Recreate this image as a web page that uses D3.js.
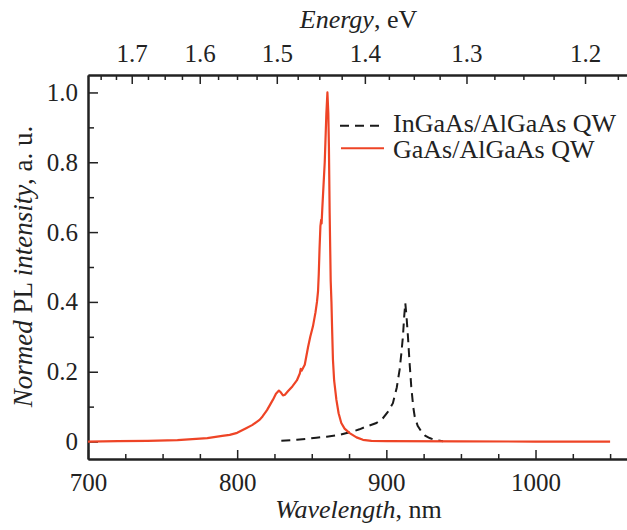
<!DOCTYPE html>
<html>
<head>
<meta charset="utf-8">
<script src="https://cdn.jsdelivr.net/npm/d3@7"></script>
<style>
  html, body { margin: 0; padding: 0; background: #fff; }
  svg { display: block; }
  text { font-family: "Liberation Serif", "Times New Roman", serif; fill: #222; }
</style>
</head>
<body>
<svg id="chart" width="627" height="530"></svg>
<script>
// ---- data ----
const gaasWavelength = [700, 720, 740, 760, 770, 780, 790, 795, 800, 806, 810, 815, 817, 820, 824, 826, 828, 829, 830.7, 832, 834, 837, 840, 842, 842.6, 843.2, 845.3, 847.5, 849, 850.8, 852.5, 853.5, 854.2, 854.7, 855.2, 855.8, 856.3, 856.6, 857.1, 858.7, 859.8, 860.5, 861.1, 861.5, 862.0, 862.7, 863.2, 863.6, 864.2, 865, 866, 866.5, 868, 869.8, 872, 875.4, 880, 884.3, 890, 900, 950, 1000, 1050];
const gaasIntensity  = [0.0, 0.001, 0.002, 0.004, 0.007, 0.010, 0.016, 0.019, 0.025, 0.038, 0.047, 0.062, 0.072, 0.09, 0.12, 0.137, 0.146, 0.142, 0.132, 0.134, 0.144, 0.158, 0.175, 0.195, 0.208, 0.203, 0.22, 0.27, 0.30, 0.33, 0.37, 0.40, 0.43, 0.48, 0.55, 0.617, 0.635, 0.625, 0.67, 0.80, 0.94, 1.0, 0.94, 0.846, 0.655, 0.46, 0.40, 0.33, 0.235, 0.175, 0.139, 0.12, 0.081, 0.053, 0.037, 0.024, 0.012, 0.005, 0.002, 0.001, 0.0005, 0.0, 0.0];

const ingaasWavelength = [829.6, 840, 853.1, 860, 868.7, 877.6, 882, 886.6, 893.3, 897.7, 901, 904.4, 907, 908.9, 910, 911.1, 912, 912.7, 913.5, 914.5, 915.5, 916.7, 918, 919, 921, 923.4, 926, 929, 933, 938];
const ingaasIntensity  = [0.002, 0.005, 0.011, 0.014, 0.019, 0.029, 0.035, 0.043, 0.053, 0.067, 0.085, 0.11, 0.155, 0.206, 0.25, 0.30, 0.36, 0.397, 0.36, 0.30, 0.23, 0.158, 0.10, 0.072, 0.045, 0.029, 0.017, 0.01, 0.004, 0.001];

const wavelengthMajorTicks = [700, 800, 900, 1000];
const wavelengthMinorTicks = [725, 750, 775, 825, 850, 875, 925, 950, 975, 1025, 1050];
const energyMajorTicks = [1.7, 1.6, 1.5, 1.4, 1.3, 1.2];
const energyMinorTicks = [1.75, 1.725, 1.675, 1.65, 1.625, 1.575, 1.55, 1.525, 1.475, 1.45, 1.425, 1.375, 1.35, 1.325, 1.275, 1.25, 1.225, 1.175];
const intensityMajorTicks = [0, 0.2, 0.4, 0.6, 0.8, 1.0];
const intensityMinorTicks = [0.1, 0.3, 0.5, 0.7, 0.9];

const seriesNames = ["InGaAs/AlGaAs QW", "GaAs/AlGaAs QW"];
const hcConst = 1239.84; // eV*nm

// ---- layout ----
const svg = d3.select("#chart");
const xLeft = 88, xRight = 628, yTop = 75, yBottom = 459;
const x = d3.scaleLinear().domain([700, 1062]).range([xLeft, xRight]);
const y = d3.scaleLinear().domain([-0.05, 1.05]).range([yBottom, yTop]);

const axisColor = "#222";
const fontSize = 25;

function styleAxis(g) {
  g.select(".domain").attr("stroke", axisColor).attr("stroke-width", 2);
  g.selectAll(".tick line").attr("stroke", axisColor).attr("stroke-width", 1.5);
  g.selectAll(".tick text").attr("font-size", fontSize).attr("fill", axisColor)
    .attr("font-family", "Liberation Serif, serif");
}

// bottom axis minor
svg.append("g").attr("transform", `translate(0,${yBottom})`)
  .call(d3.axisBottom(x).tickValues(wavelengthMinorTicks).tickSizeInner(-5).tickSizeOuter(0).tickFormat(""))
  .call(styleAxis);
// bottom axis major
svg.append("g").attr("transform", `translate(0,${yBottom})`)
  .call(d3.axisBottom(x).tickValues(wavelengthMajorTicks).tickSizeInner(-9).tickSizeOuter(0).tickPadding(14).tickFormat(d3.format("d")))
  .call(styleAxis);

// top axis (energy) minor
svg.append("g").attr("transform", `translate(0,${yTop})`)
  .call(d3.axisTop(x).tickValues(energyMinorTicks.map(e => hcConst / e)).tickSizeInner(-5).tickSizeOuter(0).tickFormat(""))
  .call(styleAxis);
// top axis major
svg.append("g").attr("transform", `translate(0,${yTop})`)
  .call(d3.axisTop(x).tickValues(energyMajorTicks.map(e => hcConst / e)).tickSizeInner(-9).tickSizeOuter(0).tickPadding(13)
    .tickFormat(w => (hcConst / w).toFixed(1)))
  .call(styleAxis);

// left axis minor
svg.append("g").attr("transform", `translate(${xLeft},0)`)
  .call(d3.axisLeft(y).tickValues(intensityMinorTicks).tickSizeInner(-6).tickSizeOuter(0).tickFormat(""))
  .call(styleAxis);
// left axis major
svg.append("g").attr("transform", `translate(${xLeft},0)`)
  .call(d3.axisLeft(y).tickValues(intensityMajorTicks).tickSizeInner(-10).tickSizeOuter(0).tickPadding(10)
    .tickFormat(d => d === 0 ? "0" : d3.format(".1f")(d)))
  .call(styleAxis);

// ---- lines ----
const line = d3.line().x(d => x(d[0])).y(d => y(d[1]));
const gaasData = gaasWavelength.map((w, i) => [w, gaasIntensity[i]]);
const ingaasData = ingaasWavelength.map((w, i) => [w, ingaasIntensity[i]]);

const redColor = "#ee4426";

svg.append("path").datum(ingaasData)
  .attr("d", line).attr("fill", "none")
  .attr("stroke", "#1a1a1a").attr("stroke-width", 2)
  .attr("stroke-dasharray", "9,6");

svg.append("path").datum(gaasData)
  .attr("d", line).attr("fill", "none")
  .attr("stroke", redColor).attr("stroke-width", 2.2)
  .attr("stroke-linejoin", "round");

// ---- legend ----
const legend = svg.append("g");
legend.append("line").attr("x1", 340).attr("x2", 384).attr("y1", 125.7).attr("y2", 125.7)
  .attr("stroke", "#1a1a1a").attr("stroke-width", 2).attr("stroke-dasharray", "9,6");
legend.append("text").attr("x", 393).attr("y", 132).attr("font-size", 26).text(seriesNames[0]);
legend.append("line").attr("x1", 341).attr("x2", 384).attr("y1", 148.3).attr("y2", 148.3)
  .attr("stroke", redColor).attr("stroke-width", 2);
legend.append("text").attr("x", 393).attr("y", 158).attr("font-size", 26).text(seriesNames[1]);

// ---- axis titles ----
const bt = svg.append("text").attr("x", 358.5).attr("y", 518).attr("text-anchor", "middle").attr("font-size", 26);
bt.append("tspan").attr("font-style", "italic").text("Wavelength");
bt.append("tspan").text(", nm");

const tt = svg.append("text").attr("x", 358.5).attr("y", 28).attr("text-anchor", "middle").attr("font-size", 26);
tt.append("tspan").attr("font-style", "italic").text("Energy");
tt.append("tspan").text(", eV");

const lt = svg.append("text").attr("transform", "translate(32,266.5) rotate(-90)").attr("text-anchor", "middle").attr("font-size", 27);
lt.append("tspan").attr("font-style", "italic").text("Normed");
lt.append("tspan").text(" PL ");
lt.append("tspan").attr("font-style", "italic").text("intensity");
lt.append("tspan").text(", a. u.");
</script>
</body>
</html>
